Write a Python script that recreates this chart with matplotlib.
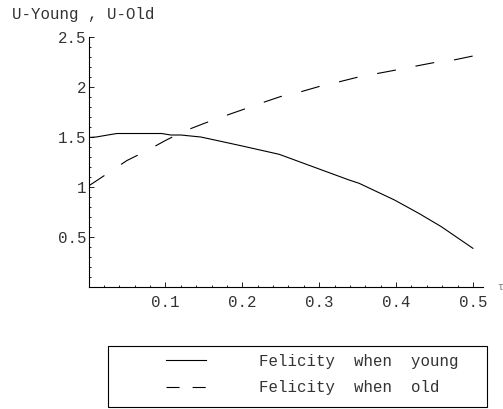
from matplotlib import pyplot as plt
from matplotlib.lines import Line2D
from matplotlib.patches import Rectangle
from matplotlib.ticker import MultipleLocator

# felicity curves
young_x = [0, 0.01, 0.025, 0.037, 0.095, 0.107, 0.12, 0.146, 0.172, 0.2,
           0.248, 0.3, 0.339, 0.352, 0.398, 0.43, 0.459, 0.5]
young_y = [1.495, 1.50, 1.52, 1.535, 1.535, 1.52, 1.52, 1.50, 1.457, 1.41,
           1.327, 1.18, 1.07, 1.037, 0.87, 0.735, 0.603, 0.387]

old_x = [0, 0.025, 0.05, 0.075, 0.1, 0.125, 0.15, 0.175, 0.2, 0.225, 0.25,
         0.275, 0.3, 0.325, 0.35, 0.375, 0.4, 0.425, 0.45, 0.475, 0.5]
old_y = [1.01, 1.137, 1.265, 1.36, 1.465, 1.56, 1.635, 1.705, 1.772, 1.84,
         1.905, 1.95, 2.005, 2.05, 2.098, 2.134, 2.17, 2.208, 2.245, 2.27, 2.31]

x_ticks = [0.1, 0.2, 0.3, 0.4, 0.5]
x_ticklabels = ["0.1", "0.2", "0.3", "0.4", "0.5"]
y_ticks = [0.5, 1, 1.5, 2, 2.5]
y_ticklabels = ["0.5", "1", "1.5", "2", "2.5"]

legend_labels = ["Felicity  when  young", "Felicity  when  old"]

plt.rcParams["font.family"] = ["Liberation Mono", "DejaVu Sans"]
plt.rcParams["lines.scale_dashes"] = False
TXT = "#333333"
FS = 11.3

fig = plt.figure(figsize=(5.03, 4.09), dpi=100)
ax = fig.add_axes([0.176, 0.2983, 0.784, 0.6112])

ax.plot(young_x, young_y, color="black", lw=0.8)
ax.plot(old_x, old_y, color="black", lw=0.8, dashes=(13.7, 14.4))

ax.set_xlim(0, 0.513)
ax.set_ylim(0, 2.5)

for side in ("top", "right"):
    ax.spines[side].set_visible(False)
for side in ("left", "bottom"):
    ax.spines[side].set_linewidth(0.8)

ax.set_xticks(x_ticks)
ax.set_xticklabels(x_ticklabels)
ax.set_yticks(y_ticks)
ax.set_yticklabels(y_ticklabels)
ax.xaxis.set_minor_locator(MultipleLocator(0.02))
ax.yaxis.set_minor_locator(MultipleLocator(0.1))
ax.tick_params(which="major", direction="in", length=3.5, width=0.6,
               labelsize=FS, labelcolor=TXT)
ax.tick_params(which="minor", direction="in", length=1.6, width=0.6)
ax.tick_params(axis="x", which="major", pad=6)
ax.tick_params(axis="y", which="major", pad=1.5)

fig.text(12 / 503, 1 - 15 / 409, "U-Young , U-Old", fontsize=FS, color=TXT,
         va="center", ha="left")
fig.text(497 / 503, 1 - 287 / 409, "τ", fontsize=7, color="#777777",
         va="center", ha="left")

handles = [Line2D([], [], color="black", lw=0.8),
           Line2D([], [], color="black", lw=0.8, dashes=(9.4, 9.4))]
fig.legend(handles, legend_labels, loc="center left",
           bbox_to_anchor=(166 / 503, 1 - 374.5 / 409), frameon=False,
           fontsize=FS, handlelength=2.55, handletextpad=3.4,
           labelspacing=0.75, borderpad=0, borderaxespad=0, labelcolor=TXT)
fig.add_artist(Rectangle((108 / 503, 1 - 407 / 409), 379 / 503, 61 / 409,
                         transform=fig.transFigure, fill=False,
                         edgecolor="black", lw=0.8))

fig.savefig("out.png", dpi=100)
